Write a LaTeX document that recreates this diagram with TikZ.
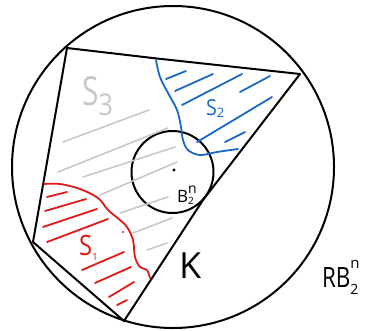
\documentclass[tikz,border=0pt]{standalone}
\usepackage{fontspec}
\setmainfont{Open Sans}
\definecolor{penblue}{RGB}{25,105,200}
\definecolor{penred}{RGB}{225,25,25}
\definecolor{pengray}{RGB}{200,200,200}
\tikzset{
  pen/.style={line width=1.8pt, line cap=round, line join=round},
  kline/.style={pen, black, line width=2pt},
  bluepen/.style={pen, penblue},
  redpen/.style={pen, penred},
  graypen/.style={pen, pengray, line width=1.6pt},
  lbl/.style={anchor=base west, inner sep=0pt, outer sep=0pt}
}
\newcommand{\fs}[1]{\fontsize{#1}{#1}\selectfont}
\begin{document}
\begin{tikzpicture}[x=1pt,y=-1pt]
\useasboundingbox (0,0) rectangle (371,330);
% outer ball
\draw[kline] (173,167) circle[radius=161pt];
% polygon K
\coordinate (A) at (67,48);
\coordinate (B) at (300,74);
\coordinate (T) at (203,200);
\coordinate (D) at (124,321);
\coordinate (E) at (33,242);
\draw[kline] (A) -- (157,58.5) -- (B) -- (T) -- (D) -- (E) -- cycle;
% inner ball
\draw[kline] (172.5,172) circle[radius=41pt];
\fill (174,170) circle[radius=1.6pt];
% gray hatches (S3)
\draw[graypen] (63,142) -- (149,110);
\draw[graypen] (58,172) -- (168,128);
\draw[graypen] (83,177) -- (175,147);
\draw[graypen] (100,195) -- (177,162);
\draw[graypen] (120,213) -- (168,197);
\draw[graypen] (133,233) -- (172,218);
\draw[graypen] (147,250) -- (167,243);
% blue region S2
\draw[bluepen] plot[smooth, tension=0.6] coordinates {(156,60) (160,77) (168,93) (177,110) (181,127) (183,140) (188,150) (200,155) (217,152) (238,149)};
\draw[bluepen] (166,79) -- (186,71);
\draw[bluepen] (175,91) -- (213,74);
\draw[bluepen] (182,105) -- (242,74);
\draw[bluepen] (240,92) -- (270,76);
\draw[bluepen] (197,142) -- (272,97);
\draw[bluepen] (225,142) -- (245,132);
% red region S1
\draw[redpen] plot[smooth, tension=0.6] coordinates {(44,184) (60,184) (80,189) (98,198) (108,210) (120,220) (127,227) (133,240) (135,257) (140,267) (147,270) (150,278)};
\fill[penred] (123,232) circle[radius=1.1pt];
\draw[redpen] (47,197) -- (67,192);
\draw[redpen] (45,211) -- (86,199);
\draw[redpen] (43,227) -- (97,209);
\draw[redpen] (47,242) -- (108,219);
\draw[redpen] (82,270) -- (124,252);
\draw[redpen] (95,283) -- (131,267);
\draw[redpen] (109,297) -- (134,282);
\draw[redpen] (117,305) -- (127,300);
% labels
\node[lbl, text=pengray] (s3) at (82,105) {\scalebox{0.75}[1]{\fs{40}S}\raisebox{-10pt}{\scalebox{0.85}[1]{\fs{30}3}}};
\node[lbl, text=penblue] (s2) at (206,115) {\scalebox{0.9}[1]{\fs{22}S}\raisebox{-2pt}{\fs{13}2}};
\node[lbl, text=penred] (s1) at (79,255) {\scalebox{0.85}[1]{\fs{28}S}\raisebox{-5pt}{\fs{10}1}};
\node[lbl] (k) at (179,278) {\fs{36}K};
\node[lbl] (b2n) at (177,202) {\fs{17}B\rlap{\raisebox{9pt}{\fs{14}n}}\raisebox{-2pt}{\fs{10}2}};
\node[lbl] (rb) at (322,287) {\scalebox{0.8}[1]{\fs{28}RB}\rlap{\raisebox{19pt}{\fs{15}n}}\raisebox{-7pt}{\fs{14}2}};
\end{tikzpicture}
\end{document}
